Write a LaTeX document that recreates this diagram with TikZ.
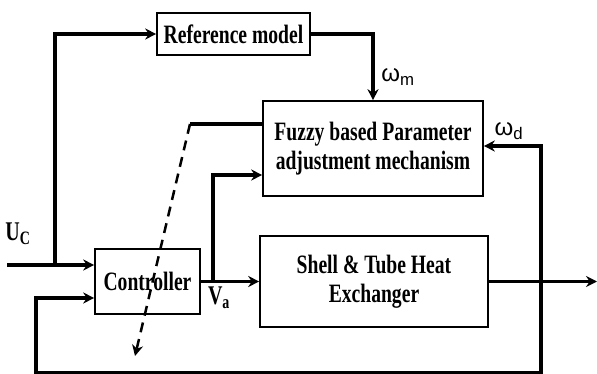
\documentclass[tikz,border=0pt]{standalone}
\usepackage{fontspec}
\newfontfamily\blockfont{Liberation Serif}[FakeStretch=0.74]
\newfontfamily\greekfont{Liberation Sans}
\usetikzlibrary{positioning,arrows.meta}

\begin{document}
\begin{tikzpicture}[x=1pt,y=-1pt,
block/.style={rectangle,draw,line width=1.6pt,align=center,inner sep=0pt,
 font=\blockfont\bfseries\fontsize{26.5}{29}\selectfont},
sig/.style={line width=3.5pt,-{Stealth[length=11pt,width=11pt]}},
wire/.style={line width=3.5pt},
lbl/.style={font=\blockfont\bfseries\fontsize{27}{29}\selectfont,inner sep=0pt},
omega/.style={font=\greekfont\fontsize{24}{26}\selectfont,inner sep=0pt}]
 \useasboundingbox (0,0) rectangle (597,374);
 % blocks
 \node[block,minimum width=153pt,minimum height=42pt] (ref) at (233.5,34) {Reference model};
 \node[block,minimum width=220pt,minimum height=95pt] (fuzzy) at (373,148.5) {Fuzzy based Parameter\\adjustment mechanism};
 \node[block,minimum width=105pt,minimum height=65pt] (ctrl) at (147.5,281.5) {Controller};
 \node[block,minimum width=228pt,minimum height=91pt] (plant) at (374,281.5) {Shell \& Tube Heat\\Exchanger};
 % junctions
 \coordinate (uc) at (7,265);
 \coordinate (split) at (55,265);
 \coordinate (va) at (213,281.5);
 \coordinate (tap) at (541,281.5);
 \coordinate (out) at (597,281.5);
 \coordinate (fb) at (36,373);
 \coordinate (adj) at (190,124);
 \coordinate (tune) at (135,356);
 % signals
 \draw[sig] (uc) -- (ctrl.west |- uc);
 \draw[sig] (split) |- (ref.west);
 \draw[sig] (ref.east) -| (fuzzy.north);
 \draw[sig] (ctrl.east) -- (plant.west);
 \draw[sig] (va) |- ([yshift=-26.5pt]fuzzy.west);
 \draw[sig] (plant.east) -- (out);
 \draw[sig] (tap) |- ([yshift=2.5pt]fuzzy.east);
 \draw[sig] (tap) |- (fb) |- ([yshift=-16.5pt]ctrl.west);
 \draw[wire] (adj) -- (fuzzy.west |- adj);
 \draw[sig,line width=2.5pt,dash pattern=on 10pt off 7pt] (adj) -- (tune);
 % labels
 \node[lbl] (uclabel) at (18,234) {U\textsubscript{C}};
 \node[lbl] (valabel) at (219,298) {V\textsubscript{a}};
 \node[omega] (wmlabel) at (398,77) {ω\textsubscript{m}};
 \node[omega] (wdlabel) at (509,131) {ω\textsubscript{d}};
\end{tikzpicture}
\end{document}
